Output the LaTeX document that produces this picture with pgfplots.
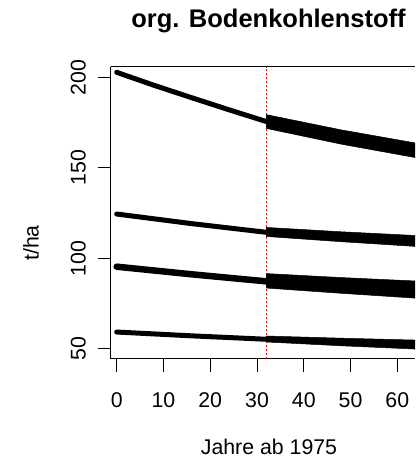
\documentclass[border=0pt]{standalone}
\usepackage{fontspec}
\setmainfont{Liberation Sans}
\usepackage{pgfplots}
\pgfplotsset{compat=1.18}
\begin{document}
\begin{tikzpicture}
\path (0pt,0pt) rectangle (415pt,461pt);
\begin{axis}[
  at={(110.7pt,102pt)}, anchor=south west,
  scale only axis, width=304.3pt, height=292.3pt,
  xmin=-1.28, xmax=63.78, ymin=44.4, ymax=205.9,
  axis x line=box, axis y line=left,
  axis line style={black, line width=1pt, -},
  tick pos=left, tick align=outside,
  major tick length=13pt,
  tick style={black, line width=1pt},
  xtick={0,10,20,30,40,50,60},
  ytick={50,100,150,200},
  /pgf/number format/assume math mode=true,
  ticklabel style={font=\fontsize{21.3}{25}\selectfont},
  xticklabel style={anchor=base, yshift=-35.3pt},
  yticklabel style={rotate=90, anchor=base},
  yticklabel shift=12pt,
  clip=true, clip mode=individual,
]
\addplot[red, line width=1pt, dash pattern=on 2pt off 2pt] coordinates {(32,44.4) (32,205.9)};
% line 1
\addplot[black, line width=5pt, line cap=round] coordinates {(0,202.8) (8,195.6) (16,188.8) (24,182.1) (32,175.6)};
\addplot[black, fill=black, line width=0.5pt] coordinates {(32,179.4) (48,171.0) (66.4,162.6) (66.4,154.5) (48,163.1) (32,171.8)} -- cycle;
% line 2
\addplot[black, line width=5pt, line cap=round] coordinates {(0,124.5) (16,119.2) (32,114.4)};
\addplot[black, fill=black, line width=0.5pt] coordinates {(32,117.1) (48,114.7) (66.4,112.3) (66.4,106.2) (48,109.2) (32,112.1)} -- cycle;
% line 3
\addplot[black, line width=6.5pt, line cap=round] coordinates {(0,95.4) (16,91.2) (32,87.3)};
\addplot[black, fill=black, line width=0.5pt] coordinates {(32,91.6) (48,89.4) (66.4,87.2) (66.4,77.6) (48,80.7) (32,83.6)} -- cycle;
% line 4
\addplot[black, line width=5pt, line cap=round] coordinates {(0,59.3) (16,57.2) (32,55.3)};
\addplot[black, fill=black, line width=0.5pt] coordinates {(32,57.1) (48,55.9) (66.4,54.7) (66.4,49.6) (48,51.7) (32,53.8)} -- cycle;
\coordinate (TL) at (rel axis cs:0,1);
\coordinate (TR) at (rel axis cs:1,1);
\end{axis}
\draw[black, line width=1.2pt] (TL) -- (TR);
\node[anchor=base, font=\fontsize{25.5}{30}\selectfont\bfseries] at (268.5pt,433.3pt) {org. Bodenkohlenstoff};
\node[anchor=base, font=\fontsize{21.3}{25}\selectfont] at (269pt,6.7pt) {Jahre ab 1975};
\node[rotate=90, anchor=base, font=\fontsize{21.3}{25}\selectfont] at (38.5pt,218pt) {t/ha};
\end{tikzpicture}
\end{document}
